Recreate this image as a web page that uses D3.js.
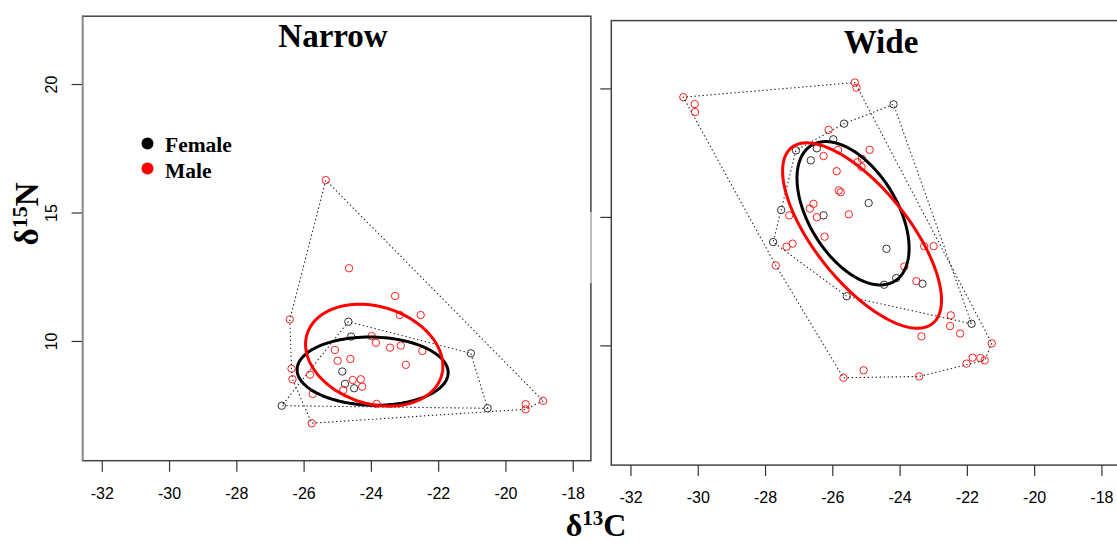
<!DOCTYPE html>
<html>
<head>
<meta charset="utf-8">
<script src="https://cdn.jsdelivr.net/npm/d3@7"></script>
<style>
  body { margin: 0; background: #fff; }
  svg { display: block; }
</style>
</head>
<body>
<svg id="chart" width="1117" height="543"></svg>
<script>
// Tick values shared by both panels
const xTicks = [-32, -30, -28, -26, -24, -22, -20, -18];
const yTicks = [10, 15, 20];

// Panel titles and group labels
const panelTitles = ["Narrow", "Wide"];
const groups = ["Female", "Male"];
const groupColors = ["#000000", "#ff0000"];

// δ13C, δ15N per individual — Narrow
const narrowFemale = [
  [-24.67, 10.75], [-24.59, 10.17], [-21.03, 9.52], [-24.85, 8.81],
  [-24.77, 8.33], [-24.50, 8.16], [-26.65, 7.48], [-20.53, 7.38]
];
const narrowMale = [
  [-25.34, 16.26], [-24.65, 12.83], [-23.28, 11.75], [-23.14, 11.01],
  [-22.52, 11.01], [-26.41, 10.84], [-23.98, 10.19], [-23.85, 9.93],
  [-23.43, 9.74], [-23.11, 9.82], [-22.47, 9.61], [-25.07, 9.65],
  [-24.99, 9.23], [-24.61, 9.30], [-22.96, 9.07], [-26.36, 8.92],
  [-26.33, 8.51], [-25.81, 8.69], [-24.54, 8.48], [-24.30, 8.51],
  [-24.26, 8.22], [-24.82, 8.09], [-25.73, 7.94], [-23.83, 7.55],
  [-25.76, 6.80], [-19.40, 7.54], [-19.40, 7.34], [-18.88, 7.67]
];

// δ13C, δ15N per individual — Wide
const wideFemale = [
  [-24.18, 19.38], [-25.65, 18.63], [-25.97, 18.02], [-26.46, 17.67],
  [-27.08, 17.59], [-26.64, 17.20], [-24.92, 15.54], [-26.26, 15.06],
  [-27.52, 15.27], [-27.76, 14.02], [-24.39, 13.76], [-24.46, 12.36],
  [-24.10, 12.62], [-23.32, 12.40], [-25.57, 11.91], [-21.86, 10.84]
];
const wideMale = [
  [-30.43, 19.66], [-30.09, 19.39], [-30.08, 19.08], [-25.33, 20.23],
  [-25.28, 20.03], [-26.11, 18.39], [-24.89, 17.61], [-25.83, 17.61],
  [-26.26, 17.37], [-25.87, 16.78], [-25.12, 17.26], [-25.25, 17.13],
  [-25.13, 16.94], [-25.81, 16.03], [-25.75, 15.96], [-26.56, 15.51],
  [-26.67, 15.32], [-26.46, 14.99], [-25.51, 15.10], [-27.28, 15.06],
  [-26.23, 14.23], [-27.36, 13.84], [-27.18, 13.96], [-27.68, 13.11],
  [-23.86, 13.07], [-23.27, 13.86], [-22.99, 13.86], [-23.50, 12.50],
  [-22.48, 11.17], [-22.50, 10.75], [-22.20, 10.46], [-23.35, 10.35],
  [-21.26, 10.08], [-21.83, 9.52], [-21.60, 9.51], [-21.47, 9.42],
  [-22.01, 9.29], [-25.07, 9.03], [-25.67, 8.74], [-23.42, 8.79]
];

const svg = d3.select("#chart");
const serif = "'Liberation Serif', 'Times New Roman', serif";
const sans = "'Liberation Sans', Arial, sans-serif";

// Plot region (user coordinates) and size of each panel
const xDomain = [-32.57, -17.46];
const yDomain = [5.34, 22.64];
const panelW = 508.3, panelH = 444.5;

const panels = [
  { left: 82.6, top: 16.2, title: panelTitles[0], sets: [narrowFemale, narrowMale], yLabels: true, titleX: 333, titleY: 46.5 },
  { left: 611.3, top: 20.6, title: panelTitles[1], sets: [wideFemale, wideMale], yLabels: false, titleX: 881, titleY: 53 }
];

// Small-sample-corrected standard ellipse
function standardEllipse(pts) {
  const n = pts.length;
  const mx = d3.mean(pts, d => d[0]), my = d3.mean(pts, d => d[1]);
  let sxx = 0, syy = 0, sxy = 0;
  pts.forEach(([x, y]) => {
    sxx += (x - mx) ** 2; syy += (y - my) ** 2; sxy += (x - mx) * (y - my);
  });
  sxx /= (n - 1); syy /= (n - 1); sxy /= (n - 1);
  const k = (n - 1) / (n - 2);
  const tr = sxx + syy, det = sxx * syy - sxy * sxy;
  const disc = Math.sqrt(Math.max(0, tr * tr / 4 - det));
  const l1 = tr / 2 + disc, l2 = tr / 2 - disc;
  let theta;
  if (Math.abs(sxy) > 1e-12) theta = Math.atan2(l1 - sxx, sxy);
  else theta = sxx >= syy ? 0 : Math.PI / 2;
  const a = Math.sqrt(l1 * k), b = Math.sqrt(Math.max(0, l2) * k);
  const out = [];
  for (let i = 0; i < 240; i++) {
    const t = (i / 240) * 2 * Math.PI;
    out.push([
      mx + a * Math.cos(theta) * Math.cos(t) - b * Math.sin(theta) * Math.sin(t),
      my + a * Math.sin(theta) * Math.cos(t) + b * Math.cos(theta) * Math.sin(t)
    ]);
  }
  return out;
}

panels.forEach((p, pi) => {
  const x = d3.scaleLinear().domain(xDomain).range([p.left, p.left + panelW]);
  const y = d3.scaleLinear().domain(yDomain).range([p.top + panelH, p.top]);
  const g = svg.append("g");

  // x axis
  const xa = g.append("g")
    .attr("transform", `translate(0,${p.top + panelH})`)
    .call(d3.axisBottom(x).tickValues(xTicks).tickSize(11).tickPadding(16).tickFormat(d3.format("d")));
  xa.select(".domain").remove();
  xa.selectAll("line").attr("stroke", "#333").attr("stroke-width", 1.2);
  xa.selectAll("text").attr("font-family", sans).attr("font-size", 16).attr("fill", "#000")
    .text(d => String(d));

  // y axis
  const ya = g.append("g")
    .attr("transform", `translate(${p.left},0)`)
    .call(d3.axisLeft(y).tickValues(yTicks).tickSize(11).tickFormat(d3.format("d")));
  ya.select(".domain").remove();
  ya.selectAll("line").attr("stroke", "#333").attr("stroke-width", 1.2);
  if (p.yLabels) {
    ya.selectAll("text")
      .attr("x", null).attr("dy", null)
      .attr("transform", "translate(-25.5,0) rotate(-90)")
      .attr("text-anchor", "middle")
      .attr("font-family", sans).attr("font-size", 16).attr("fill", "#000");
  } else {
    ya.selectAll("text").remove();
  }

  // panel box
  g.append("rect")
    .attr("x", p.left).attr("y", p.top).attr("width", panelW).attr("height", panelH)
    .attr("fill", "none").attr("stroke", "#444").attr("stroke-width", 1.5);
  if (pi === 0) {
    g.append("line")
      .attr("x1", p.left).attr("x2", p.left).attr("y1", p.top).attr("y2", p.top + panelH)
      .attr("stroke", "#8a8a8a").attr("stroke-width", 1.5);
    g.append("line")
      .attr("x1", p.left + panelW).attr("x2", p.left + panelW).attr("y1", 212).attr("y2", 283)
      .attr("stroke", "#d0d0d0").attr("stroke-width", 1.6);
  }

  // title
  g.append("text")
    .attr("x", p.titleX).attr("y", p.titleY)
    .attr("text-anchor", "middle")
    .attr("font-family", serif).attr("font-weight", "bold").attr("font-size", 33)
    .text(p.title);

  // individuals
  p.sets.forEach((pts, si) => {
    g.append("g").selectAll("circle").data(pts).join("circle")
      .attr("cx", d => x(d[0])).attr("cy", d => y(d[1])).attr("r", 3.7)
      .attr("fill", "none").attr("stroke", si === 0 ? "#333" : "#ff2020").attr("stroke-width", 1);
  });

  // convex hulls
  p.sets.forEach(pts => {
    const hull = d3.polygonHull(pts);
    g.append("path")
      .attr("d", d3.line().x(d => x(d[0])).y(d => y(d[1])).curve(d3.curveLinearClosed)(hull))
      .attr("fill", "none").attr("stroke", "#222").attr("stroke-width", 1.1)
      .attr("stroke-dasharray", "1.4,2.6");
  });

  // standard ellipses
  p.sets.forEach((pts, si) => {
    g.append("path")
      .attr("d", d3.line().x(d => x(d[0])).y(d => y(d[1])).curve(d3.curveLinearClosed)(standardEllipse(pts)))
      .attr("fill", "none").attr("stroke", groupColors[si]).attr("stroke-width", 3);
  });
});

// legend
const legend = svg.append("g");
groups.forEach((name, i) => {
  legend.append("circle").attr("cx", 147.5).attr("cy", 143.5 + i * 25).attr("r", 6).attr("fill", groupColors[i]);
  legend.append("text").attr("x", 165).attr("y", 151.5 + i * 26.5)
    .attr("font-family", serif).attr("font-weight", "bold").attr("font-size", 21.5)
    .text(name);
});

// axis titles
const xt = svg.append("text")
  .attr("x", 596).attr("y", 535.5).attr("text-anchor", "middle")
  .attr("font-family", serif).attr("font-weight", "bold").attr("font-size", 32);
xt.append("tspan").text("δ");
xt.append("tspan").attr("dy", -11).attr("font-size", 21).text("13");
xt.append("tspan").attr("dy", 11).text("C");

const yt = svg.append("text")
  .attr("transform", "translate(38,214) rotate(-90)").attr("text-anchor", "middle")
  .attr("font-family", serif).attr("font-weight", "bold").attr("font-size", 33);
yt.append("tspan").text("δ");
yt.append("tspan").attr("dy", -11).attr("font-size", 22).text("15");
yt.append("tspan").attr("dy", 11).text("N");
</script>
</body>
</html>
